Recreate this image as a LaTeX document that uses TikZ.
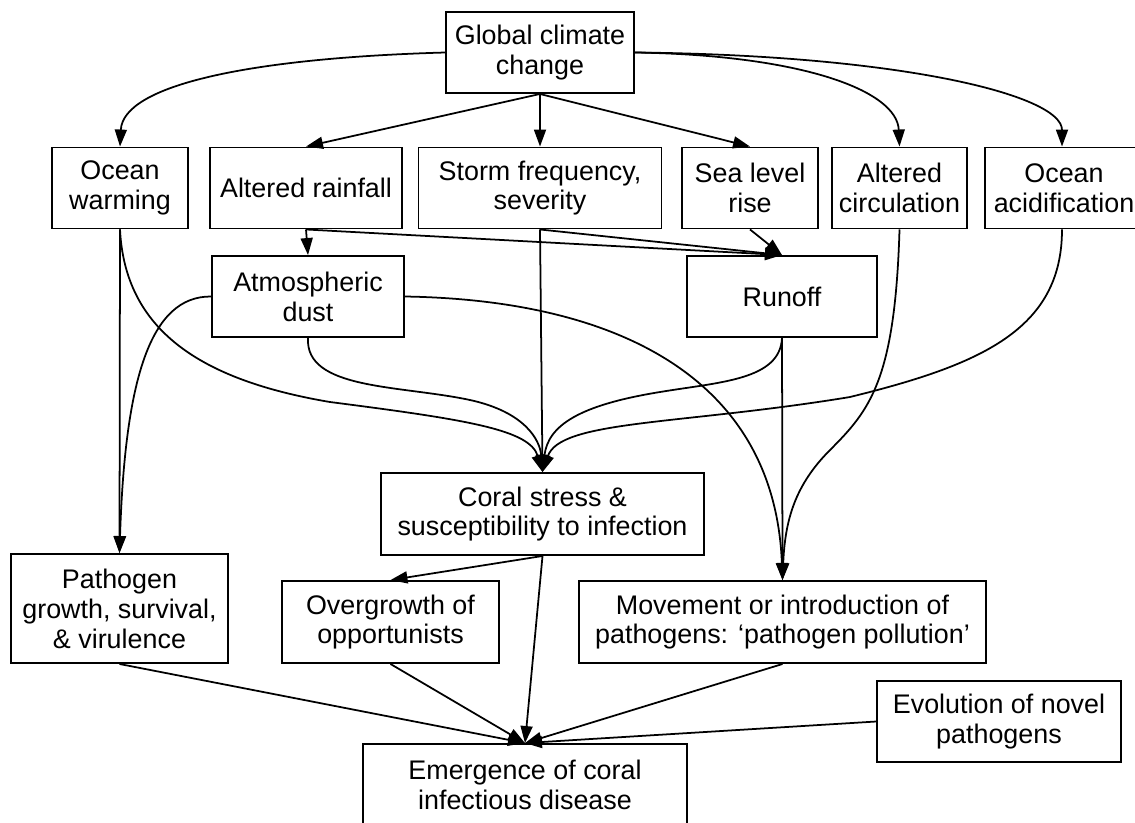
\documentclass[tikz,border=0pt]{standalone}
\usepackage{fontspec}
\setmainfont{Liberation Sans}
\usetikzlibrary{arrows.meta}
\pgfdeclarelayer{bg}
\pgfsetlayers{bg,main}
\tikzset{
  box/.style={draw, line width=1.1pt, align=center, inner sep=0pt,
    minimum height=1.62cm, font=\fontsize{15.3pt}{17pt}\selectfont},
  link/.style={line width=1pt, -{Triangle[length=0.34cm,width=0.24cm]}},
}

\begin{document}
\begin{tikzpicture}
        \useasboundingbox (0cm, 0cm) rectangle (22.70cm, -16.44cm);

        \node (gcc) [box, minimum width=3.76cm] at (10.80cm, -1.05cm) {Global climate\\change};

        \node (ow) [box, minimum width=2.72cm] at (2.40cm, -3.76cm) {Ocean\\warming};
        \node (rf) [box, minimum width=3.84cm] at (6.12cm, -3.76cm) {Altered rainfall};
        \node (sf) [box, minimum width=4.86cm] at (10.80cm, -3.76cm) {Storm frequency,\\severity};
        \node (slr) [box, minimum width=2.72cm] at (15.00cm, -3.76cm) {Sea level\\rise};
        \node (ac) [box, minimum width=2.70cm] at (17.99cm, -3.76cm) {Altered\\circulation};
        \node (oa) [box, minimum width=3.16cm] at (21.28cm, -3.76cm) {Ocean\\acidification};

        \node (ad) [box, minimum width=3.84cm] at (6.16cm, -5.93cm) {Atmospheric\\dust};
        \node (ro) [box, minimum width=3.80cm] at (15.64cm, -5.93cm) {Runoff};

        \node (cs) [box, minimum width=6.46cm, minimum height=1.64cm] at (10.85cm, -10.28cm) {Coral stress \&\\susceptibility to infection};

        \node (pg) [box, minimum width=4.34cm, minimum height=2.18cm] at (2.39cm, -12.17cm) {Pathogen\\growth, survival,\\\& virulence};
        \node (og) [box, minimum width=4.34cm, minimum height=1.64cm] at (7.81cm, -12.44cm) {Overgrowth of\\opportunists};
        \node (mv) [box, minimum width=8.14cm, minimum height=1.64cm] at (15.65cm, -12.44cm) {Movement or introduction of\\pathogens: ‘pathogen pollution’};
        \node (ev) [box, minimum width=4.88cm] at (19.98cm, -14.43cm) {Evolution of novel\\pathogens};

        \node (em) [box, minimum width=6.48cm, minimum height=1.64cm] at (10.50cm, -15.70cm) {Emergence of coral\\infectious disease};

        \begin{pgfonlayer}{bg}
                % from global climate change
                \draw [link] (gcc.west) .. controls (5.00cm, -1.16cm) and (2.46cm, -1.70cm) .. (ow.north);
                \draw (gcc.south) edge [link] (rf.north);
                \draw (gcc.south) edge [link] (sf.north);
                \draw (gcc.south) edge [link] (slr.north);
                \draw [link] (gcc.east) .. controls (16.00cm, -1.10cm) and (17.94cm, -1.80cm) .. (ac.north);
                \draw [link] (gcc.east) .. controls (18.00cm, -1.10cm) and (21.24cm, -1.90cm) .. ([xshift=-0.04cm]oa.north);

                % second row
                \draw (rf.south) edge [link] (ad.north);
                \draw (rf.south) edge [link] (ro.north);
                \draw (sf.south) edge [link] (ro.north);
                \draw (slr.south) edge [link] (ro.north);

                % into coral stress
                \draw (sf.south) edge [link] (cs.north);
                \draw [link] (ow.south) .. controls (2.50cm, -6.60cm) and (4.00cm, -7.60cm) .. (6.60cm, -8.04cm)
                        .. controls (9.40cm, -8.40cm) and (10.60cm, -8.60cm) .. (cs.north);
                \draw [link] (ad.south) .. controls (6.10cm, -7.80cm) and (8.00cm, -7.70cm) .. (9.40cm, -8.00cm)
                        .. controls (10.50cm, -8.24cm) and (10.80cm, -8.80cm) .. (cs.north);
                \draw [link] (ro.south) .. controls (15.60cm, -7.60cm) and (14.40cm, -7.64cm) .. (13.20cm, -7.84cm)
                        .. controls (11.60cm, -8.10cm) and (10.96cm, -8.50cm) .. (cs.north);
                \draw [link] ([xshift=-0.04cm]oa.south) .. controls (21.24cm, -6.60cm) and (19.60cm, -7.30cm) .. (17.00cm, -7.94cm)
                        .. controls (13.60cm, -8.50cm) and (11.20cm, -8.40cm) .. (cs.north);

                % into pathogen growth
                \draw (ow.south) edge [link] (pg.north);
                \draw [link] (ad.west) .. controls (3.00cm, -5.92cm) and (2.50cm, -7.60cm) .. (pg.north);

                % into movement
                \draw (ro.south) edge [link] (mv.north);
                \draw [link] (ad.east) .. controls (12.40cm, -6.00cm) and (15.50cm, -7.60cm) .. (mv.north);
                \draw [link] (ac.south) .. controls (17.90cm, -7.60cm) and (17.40cm, -8.20cm) .. (16.60cm, -9.00cm)
                        .. controls (15.90cm, -9.70cm) and (15.70cm, -10.40cm) .. (mv.north);

                % into emergence
                \draw (cs.south) edge [link] (og.north);
                \draw (cs.south) edge [link] (em.north);
                \draw (pg.south) edge [link] (em.north);
                \draw (og.south) edge [link] (em.north);
                \draw (mv.south) edge [link] (em.north);
                \draw (ev.west) edge [link] (em.north);
        \end{pgfonlayer}
\end{tikzpicture}
\end{document}
